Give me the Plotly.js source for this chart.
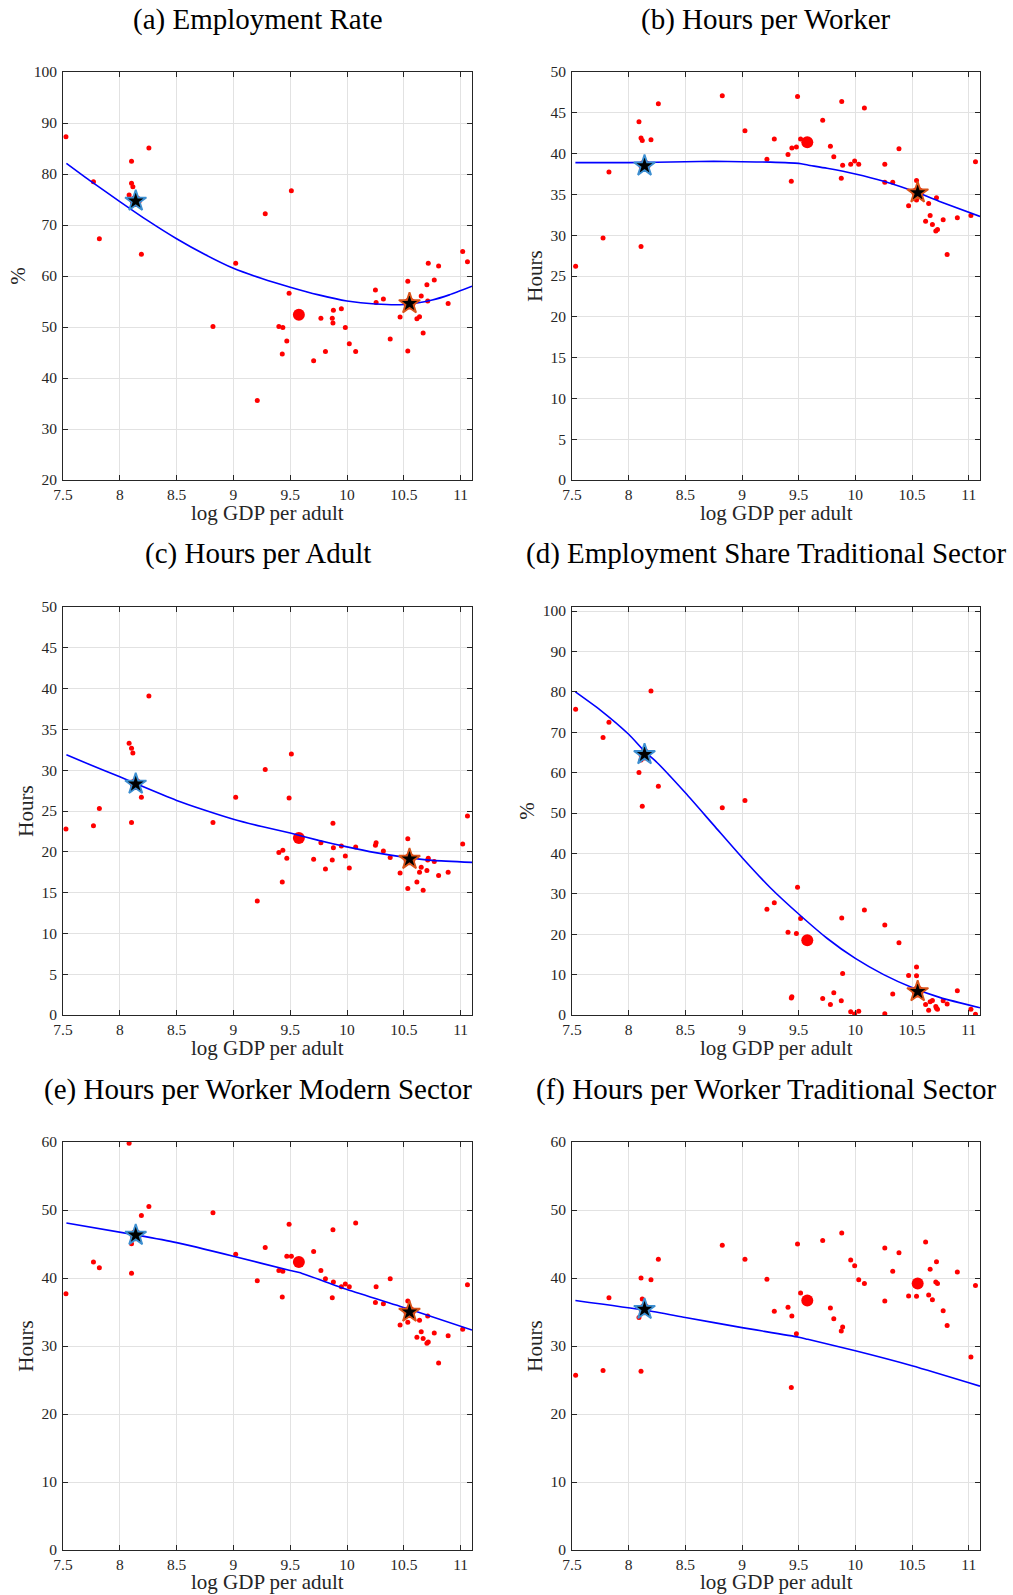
<!DOCTYPE html>
<html><head><meta charset="utf-8">
<script src="https://cdn.plot.ly/plotly-3.0.1.min.js"></script>
<style>html,body{margin:0;padding:0;background:#fff}#chart{width:1013px;height:1595px}</style>
</head><body><div id="chart"></div>
<script>
// ---------------- DATA ----------------
const xTickVals = [7.5, 8, 8.5, 9, 9.5, 10, 10.5, 11];
const xTickText = ['7.5', '8', '8.5', '9', '9.5', '10', '10.5', '11'];
const xTitle = 'log GDP per adult';

// (a) Employment Rate (%)
const aX = [7.526,7.768,7.82,8.103,8.103,8.115,8.082,8.256,8.19,8.82,9.02,9.28,9.21,9.51,9.49,9.40,9.435,9.47,9.43,9.706,9.77,9.81,9.88,9.87,9.876,9.95,9.985,10.02,10.076,10.25,10.256,10.32,10.38,10.467,10.535,10.535,10.615,10.638,10.653,10.67,10.703,10.715,10.71,10.768,10.806,10.89,11.018,11.06];
const aY = [87.3,78.5,67.3,82.5,78.2,77.5,75.9,85.1,64.25,50.1,62.5,72.2,35.6,76.7,56.6,50.1,49.9,47.25,44.7,43.4,51.7,45.2,53.3,51.7,50.8,53.6,49.9,46.7,45.2,57.25,54.8,55.5,47.65,51.96,58.95,45.3,51.6,52.0,56.1,48.8,58.3,62.5,55.1,59.2,61.96,54.6,64.8,62.8];
const aFitX = [7.53,7.75,8.0,8.25,8.5,8.75,9.0,9.25,9.5,9.75,10.0,10.25,10.5,10.75,10.9,11.1];
const aFitY = [82.1,78.5,74.6,70.8,67.3,64.2,61.5,59.5,57.8,56.3,55.1,54.5,54.4,55.3,56.3,58.0];

// (b) Hours per Worker
const bX = [7.532,7.774,7.826,8.091,8.109,8.12,8.197,8.109,8.262,8.826,9.026,9.22,9.285,9.406,9.435,9.44,9.48,9.49,9.517,9.712,9.78,9.81,9.876,9.88,9.888,9.959,9.994,10.03,10.08,10.26,10.26,10.33,10.385,10.47,10.54,10.54,10.62,10.647,10.66,10.68,10.716,10.71,10.725,10.775,10.81,10.9,11.02,11.06];
const bY = [26.2,29.66,37.75,43.9,41.9,41.6,41.7,28.6,46.1,47.1,42.8,39.3,41.8,39.9,36.6,40.7,40.8,47.0,41.8,44.1,40.9,39.6,36.97,46.4,38.56,38.7,39.1,38.7,45.6,38.7,36.5,36.5,40.6,33.6,36.7,34.3,31.7,33.9,32.4,31.3,34.6,30.5,30.7,31.9,27.65,32.15,32.4,39.0];
const bFitX = [7.53,8.0,8.5,8.75,9.0,9.25,9.5,9.58,9.75,10.0,10.25,10.55,10.75,11.1];
const bFitY = [38.9,38.9,39.0,39.05,39.0,38.95,38.8,38.6,38.2,37.5,36.6,35.2,34.1,32.3];

// (c) Hours per Adult
const cX = [7.526,7.768,7.82,8.082,8.103,8.115,8.103,8.19,8.256,8.82,9.02,9.28,9.21,9.51,9.49,9.40,9.435,9.47,9.43,9.706,9.77,9.81,9.876,9.88,9.87,9.95,9.985,10.02,10.076,10.25,10.256,10.32,10.38,10.467,10.535,10.535,10.615,10.638,10.653,10.67,10.703,10.715,10.71,10.768,10.806,10.89,11.018,11.06];
const cY = [22.8,23.2,25.3,33.3,32.7,32.1,23.6,26.7,39.1,23.6,26.7,30.1,13.97,32.0,26.6,19.9,20.2,19.2,16.3,19.1,21.1,17.9,23.5,20.5,19.0,20.7,19.5,18.0,20.6,20.8,21.1,20.1,19.3,17.4,21.6,15.5,16.3,17.5,18.1,15.3,17.7,19.2,19.0,18.8,17.1,17.5,20.96,24.4];
const cFitX = [7.53,7.75,8.0,8.15,8.5,8.75,9.0,9.25,9.5,9.75,10.0,10.25,10.5,10.75,11.1];
const cFitY = [31.9,30.6,29.2,28.3,26.3,25.1,24.0,23.1,22.3,21.4,20.6,19.9,19.35,18.95,18.7];

// (d) Employment Share Traditional Sector (%)
const dX = [7.532,7.774,7.826,8.091,8.109,8.12,8.197,8.262,8.826,9.026,9.22,9.285,9.406,9.435,9.44,9.48,9.49,9.517,9.712,9.78,9.81,9.876,9.88,9.888,9.959,9.994,10.03,10.08,10.26,10.26,10.33,10.385,10.47,10.54,10.54,10.62,10.647,10.66,10.68,10.71,10.716,10.725,10.775,10.81,10.9,11.02,11.06];
const dY = [75.7,68.7,72.5,60.0,63.1,51.7,80.2,56.6,51.3,53.1,26.2,27.8,20.5,4.2,4.5,20.2,31.65,23.9,4.1,2.6,5.5,3.5,24.0,10.25,0.8,0.25,0.9,26.0,22.3,0.33,5.2,17.9,9.8,11.9,9.7,2.6,1.2,3.3,3.6,2.1,1.7,1.4,3.5,2.7,6.0,1.4,0.2];
const dFitX = [7.53,7.75,8.0,8.15,8.25,8.5,8.75,9.0,9.25,9.5,9.75,10.0,10.25,10.5,10.75,11.1];
const dFitY = [80.0,75.5,69.5,65.0,62.5,55.0,47.0,39.0,31.5,25.0,19.0,14.0,10.0,6.8,4.3,1.8];

// (e) Hours per Worker Modern Sector
const eX = [7.526,7.768,7.82,8.082,8.103,8.103,8.19,8.256,8.82,9.02,9.28,9.21,9.49,9.47,9.51,9.40,9.435,9.43,9.706,9.77,9.81,9.876,9.88,9.87,9.95,9.985,10.02,10.076,10.25,10.256,10.32,10.38,10.467,10.535,10.535,10.615,10.638,10.653,10.67,10.703,10.715,10.71,10.768,10.806,10.89,11.018,11.06];
const eY = [37.7,42.35,41.5,59.8,45.05,40.7,49.2,50.5,49.6,43.5,44.5,39.6,47.9,43.2,43.2,41.1,41.0,37.2,43.9,41.1,39.9,47.1,39.4,37.1,38.7,39.1,38.7,48.1,36.4,38.7,36.2,39.9,33.1,36.6,33.5,31.3,33.8,32.1,31.1,30.4,30.6,34.4,31.9,27.5,31.5,32.45,39.0];
const eFitX = [7.53,8.15,8.5,9.0,9.5,9.58,10.0,10.55,11.1];
const eFitY = [48.1,46.3,45.2,43.2,41.1,40.8,38.3,35.4,32.35];

// (f) Hours per Worker Traditional Sector
const fX = [7.532,7.774,7.826,8.091,8.109,8.109,8.12,8.197,8.262,8.826,9.026,9.22,9.285,9.406,9.435,9.44,9.48,9.49,9.517,9.712,9.78,9.81,9.876,9.88,9.888,9.959,9.994,10.03,10.08,10.26,10.26,10.33,10.385,10.47,10.54,10.62,10.647,10.66,10.68,10.71,10.725,10.716,10.775,10.81,10.9,11.02,11.06];
const fY = [25.7,26.4,37.1,34.2,40.0,26.3,36.9,39.75,42.75,44.8,42.75,39.8,35.1,35.7,23.9,34.4,31.8,45.0,37.8,45.5,35.6,34.0,32.2,46.6,32.8,42.65,41.8,39.75,39.2,44.4,36.6,41.0,43.7,37.35,37.3,45.3,37.5,41.3,36.8,39.4,39.2,42.4,35.2,33.0,40.9,28.4,38.9];
const fFitX = [7.53,8.15,8.5,9.0,9.5,9.58,10.0,10.5,11.1];
const fFitY = [36.7,35.25,34.2,32.7,31.3,30.98,29.3,27.1,24.1];

// highlighted observations: large red dots at three x positions
const bigX = [8.14, 9.576, 10.55];
const aBig = [74.7, 52.4, 54.6];
const bBig = [38.5, 41.4, 35.2];
const cBig = [28.3, 21.7, 19.1];
const dBig = [64.5, 18.5, 5.8];
const eBig = [46.3, 42.35, 35.0];
const fBig = [35.4, 36.7, 39.2];
// stars: first (blue outline) at low income, second (orange outline) at high income
const starLowX = 8.14, starHighX = 10.55;

// ---------------- LAYOUT ----------------
const W = 1013, H = 1595;
const colPx = [[63, 472], [572, 980]];
const rowPx = [[72, 480], [607, 1015], [1142, 1550]];
const titleCx = [258, 766];
const titleCy = [19.5, 554, 1089];
const serif = 'Liberation Serif, Times New Roman, serif';
const axCol = '#262626';

const panels = [
  {title:'(a) Employment Rate', x:aX, y:aY, fx:aFitX, fy:aFitY, big:aBig, hi:true, yr:[20,100], dt:10, yt:'%', c:0, r:0},
  {title:'(b) Hours per Worker', x:bX, y:bY, fx:bFitX, fy:bFitY, big:bBig, hi:true, yr:[0,50], dt:5, yt:'Hours', c:1, r:0},
  {title:'(c) Hours per Adult', x:cX, y:cY, fx:cFitX, fy:cFitY, big:cBig, hi:true, yr:[0,50], dt:5, yt:'Hours', c:0, r:1},
  {title:'(d) Employment Share Traditional Sector', x:dX, y:dY, fx:dFitX, fy:dFitY, big:dBig, hi:true, yr:[0,101], dt:10, yt:'%', c:1, r:1},
  {title:'(e) Hours per Worker Modern Sector', x:eX, y:eY, fx:eFitX, fy:eFitY, big:eBig, hi:true, yr:[0,60], dt:10, yt:'Hours', c:0, r:2},
  {title:'(f) Hours per Worker Traditional Sector', x:fX, y:fY, fx:fFitX, fy:fFitY, big:fBig, hi:false, yr:[0,60], dt:10, yt:'Hours', c:1, r:2}
];

const traces = [];
const layout = {
  width: W, height: H, margin: {l:0, r:0, t:0, b:0},
  paper_bgcolor: '#fff', plot_bgcolor: '#fff', showlegend: false,
  font: {family: serif, color: axCol},
  annotations: []
};

panels.forEach((p, i) => {
  const n = i + 1;
  const xa = 'x' + (n === 1 ? '' : n), ya = 'y' + (n === 1 ? '' : n);
  const xk = 'xaxis' + (n === 1 ? '' : n), yk = 'yaxis' + (n === 1 ? '' : n);
  const [x0, x1] = colPx[p.c], [y0, y1] = rowPx[p.r];

  traces.push({type:'scatter', mode:'markers', x:p.x, y:p.y, xaxis:xa, yaxis:ya,
    marker:{color:'#ff0000', size:5}, hoverinfo:'x+y'});
  traces.push({type:'scatter', mode:'markers', x:bigX, y:p.big, xaxis:xa, yaxis:ya,
    marker:{color:'#ff0000', size:12}, hoverinfo:'x+y'});
  traces.push({type:'scatter', mode:'lines', x:p.fx, y:p.fy, xaxis:xa, yaxis:ya,
    line:{color:'#0000ff', width:1.6, shape:'spline', smoothing:0.6}, hoverinfo:'skip'});
  traces.push({type:'scatter', mode:'markers', x:[starLowX], y:[p.big[0]], xaxis:xa, yaxis:ya,
    marker:{symbol:'star', color:'#000000', size:16, line:{color:'#3d8fd1', width:1.8}}, hoverinfo:'x+y'});
  if (p.hi) {
    traces.push({type:'scatter', mode:'markers', x:[starHighX], y:[p.big[2]], xaxis:xa, yaxis:ya,
      marker:{symbol:'star', color:'#000000', size:16, line:{color:'#d95319', width:1.8}}, hoverinfo:'x+y'});
  }

  const yTicks = [];
  for (let v = p.yr[0]; v <= Math.floor(p.yr[1]); v += p.dt) yTicks.push(v);

  layout[xk] = {
    domain:[x0 / W, x1 / W], range:[7.5, 11.1], anchor: ya,
    tickvals: xTickVals, ticktext: xTickText,
    ticks:'inside', ticklen:5, tickwidth:1, tickcolor:axCol,
    showline:true, mirror:'ticks', linecolor:axCol, linewidth:1,
    showgrid:true, gridcolor:'#e2e2e2', gridwidth:1, zeroline:false,
    tickfont:{family:serif, size:15.5, color:axCol},
    ticklabelstandoff: 0,
    fixedrange:true
  };
  layout[yk] = {
    domain:[1 - y1 / H, 1 - y0 / H], range:p.yr, anchor: xa,
    tickvals: yTicks,
    ticks:'inside', ticklen:5, tickwidth:1, tickcolor:axCol,
    showline:true, mirror:'ticks', linecolor:axCol, linewidth:1,
    showgrid:true, gridcolor:'#e2e2e2', gridwidth:1, zeroline:false,
    tickfont:{family:serif, size:15.5, color:axCol},
    ticklabelstandoff: 2,
    title:{text:p.yt, font:{family:serif, size:21, color:axCol}, standoff:2},
    fixedrange:true
  };

  // x-axis title, placed just under the tick labels as in the source;
  // the bottom row sits against the lower page edge
  const lastRow = p.r === 2;
  layout.annotations.push({
    text: xTitle, xref:'paper', yref:'paper', x: ((x0 + x1) / 2) / W,
    y: lastRow ? 0 : 1 - (y1 + 33) / H,
    xanchor:'center', yanchor: lastRow ? 'bottom' : 'middle', showarrow:false, borderpad:0,
    font:{family:serif, size:21, color:axCol}
  });

  layout.annotations.push({
    text: p.title, xref:'paper', yref:'paper', x: titleCx[p.c] / W, y: 1 - titleCy[p.r] / H,
    xanchor:'center', yanchor:'middle', showarrow:false,
    font:{family:serif, size:29, color:'#000000'}
  });
});

// page number, cut off by the bottom edge as in the source page
layout.annotations.push({
  text:'26', xref:'paper', yref:'paper', x: 512 / W, y: 1 - 1586 / H,
  xanchor:'center', yanchor:'top', showarrow:false,
  font:{family:serif, size:30, color:'#000000'}
});

Plotly.newPlot('chart', traces, layout, {staticPlot:true, displayModeBar:false});
</script></body></html>
